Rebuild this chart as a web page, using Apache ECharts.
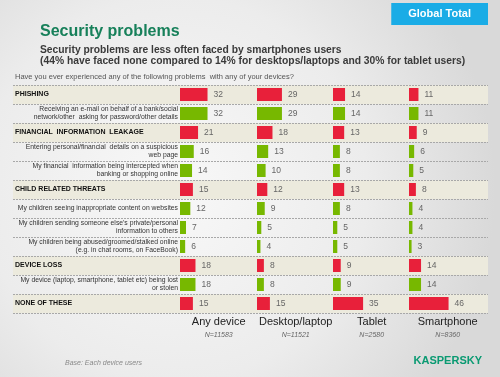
<!DOCTYPE html>
<html>
<head>
<meta charset="utf-8">
<script src="https://cdn.jsdelivr.net/npm/echarts@6/dist/echarts.min.js"></script>
<style>html,body{margin:0;padding:0;}#c{width:500px;height:377px;}</style>
</head>
<body>
<div id="c"></div>
<script>
var categories = [
  'PHISHING',
  'Receiving an e-mail on behalf of a bank/social\nnetwork/other  asking for password/other details',
  'FINANCIAL  INFORMATION  LEAKAGE',
  'Entering personal/financial  details on a suspicious\nweb page',
  'My financial  information being intercepted when\nbanking or shopping online',
  'CHILD RELATED THREATS',
  'My children seeing inappropriate content on websites',
  "My children sending someone else's private/personal\ninformation to others",
  'My children being abused/groomed/stalked online\n(e.g. in chat rooms, on FaceBook)',
  'DEVICE LOSS',
  'My device (laptop, smartphone, tablet etc) being lost\nor stolen',
  'NONE OF THESE'
];
var isHeader = [1,0,1,0,0,1,0,0,0,1,0,1];
var devices = ['Any device', 'Desktop/laptop', 'Tablet', 'Smartphone'];
var sampleSizes = ['N=11583', 'N=11521', 'N=2580', 'N=8360'];
var anyDevice  = [32,32,21,16,14,15,12,7,6,18,18,15];
var desktop    = [29,29,18,13,10,12,9,5,4,8,8,15];
var tablet     = [14,14,13,8,8,13,8,5,5,9,9,35];
var smartphone = [11,11,9,6,5,8,4,4,3,14,14,46];
var seriesValues = [anyDevice, desktop, tablet, smartphone];

var RED = '#e8203a', GREEN = '#77b800', BEIGE = '#eceadd';
var FONT = 'Liberation Sans, Arial, sans-serif';
var colLefts = [180, 257, 333, 409];
var TOP = 85, H = 228;

var grids = [{left: 13, width: 475, top: TOP, height: H}];
var xAxes = [{gridIndex: 0, type: 'value', min: 0, max: 1, show: false}];
var yAxes = [{gridIndex: 0, type: 'category', inverse: true, data: categories, z: 10,
  axisLine: {show: false}, axisTick: {show: false},
  axisLabel: {show: true, inside: true, margin: 2, interval: 0,
    fontSize: 7, fontWeight: 'bold', color: '#111', fontFamily: FONT,
    formatter: function (v, i) { return isHeader[i] ? v : ''; }},
  splitLine: {show: true, lineStyle: {color: '#a8a8a8', type: [2, 1], width: 1}}}];
var series = [{
  type: 'bar', xAxisIndex: 0, yAxisIndex: 0, barWidth: '100%', silent: true, z: 1,
  data: isHeader.map(function (h) { return h ? 1 : 0; }),
  itemStyle: {color: BEIGE}
}];

colLefts.forEach(function (l, k) {
  var gi = k + 1;
  grids.push({left: l, width: 77.4, top: TOP, height: H});
  xAxes.push({gridIndex: gi, type: 'value', min: 0, max: 90,
    axisLine: {show: false}, axisTick: {show: false}, axisLabel: {show: false}, splitLine: {show: false},
    name: '{a|' + devices[k] + '}\n{b|' + sampleSizes[k] + '}',
    nameLocation: 'middle', nameGap: 1,
    nameTextStyle: {rich: {
      a: {fontSize: 11, color: '#222', lineHeight: 15, fontFamily: FONT},
      b: {fontSize: 7, color: '#666', fontStyle: 'italic', lineHeight: 12, fontFamily: FONT}
    }}});
  yAxes.push({gridIndex: gi, type: 'category', inverse: true, data: categories, z: 10,
    axisLine: {show: false}, axisTick: {show: false}, splitLine: {show: false},
    axisLabel: k === 0 ? {
      show: true, margin: 2, interval: 0,
      fontSize: 6.8, color: '#333', lineHeight: 8, fontFamily: FONT,
      formatter: function (v, i) { return isHeader[i] ? '' : v; }
    } : {show: false}});
  series.push({
    type: 'bar', xAxisIndex: gi, yAxisIndex: gi, barWidth: 13, z: 3,
    data: seriesValues[k].map(function (v, i) {
      return {value: v, itemStyle: {color: isHeader[i] ? RED : GREEN}};
    }),
    label: {show: true, position: 'right', distance: 6, color: '#666', fontSize: 8.5, fontFamily: FONT}
  });
});

var chart = echarts.init(document.getElementById('c'), null, {renderer: 'canvas'});
chart.setOption({
  animation: false,
  backgroundColor: {type: 'radial', x: 0.35, y: 0.5, r: 0.85,
    colorStops: [{offset: 0, color: '#f8f8f8'}, {offset: 0.6, color: '#ececec'}, {offset: 1, color: '#d9d9d9'}]},
  title: [
    {text: 'Security problems', left: 40, top: 24, padding: 0,
      textStyle: {color: '#17805a', fontSize: 16, fontWeight: 'bold', fontFamily: FONT}},
    {text: 'Security problems are less often faced by smartphones users\n(44% have faced none compared to 14% for desktops/laptops and 30% for tablet users)',
      left: 40, top: 44, padding: 0,
      textStyle: {color: '#3a3a3a', fontSize: 10.3, fontWeight: 'bold', lineHeight: 11.5, fontFamily: FONT}},
    {text: 'Have you ever experienced any of the following problems  with any of your devices?',
      left: 15, top: 73, padding: 0,
      textStyle: {color: '#555', fontSize: 7.5, fontWeight: 'normal', fontFamily: FONT}},
    {text: 'Global Total', right: 12, top: 3, padding: [5, 17, 5, 17], backgroundColor: '#1aace6',
      textStyle: {color: '#fff', fontSize: 11, fontWeight: 'bold', fontFamily: FONT, lineHeight: 12}},
    {text: 'Base: Each device users', left: 65, top: 360, padding: 0,
      textStyle: {color: '#888', fontSize: 7, fontStyle: 'italic', fontWeight: 'normal', fontFamily: FONT}},
    {text: 'KASPERSKY', right: 18, top: 355, padding: 0,
      textStyle: {color: '#0a9a72', fontSize: 11, fontWeight: 'bold', fontFamily: FONT}}
  ],
  grid: grids,
  xAxis: xAxes,
  yAxis: yAxes,
  series: series
});
</script>
</body>
</html>
